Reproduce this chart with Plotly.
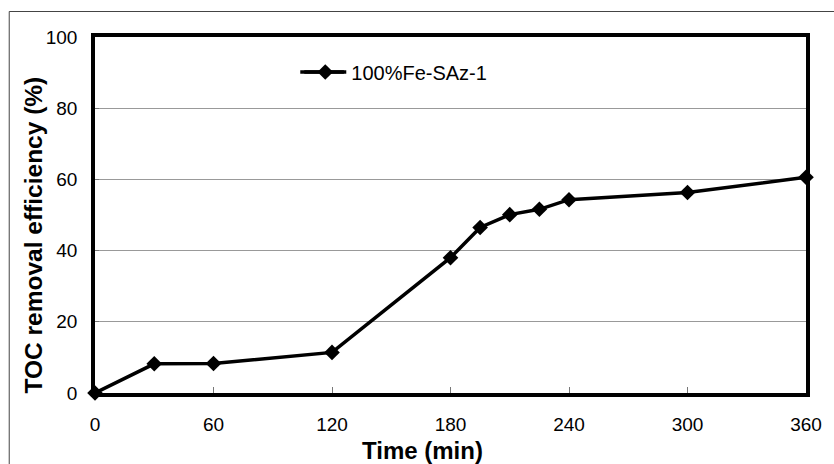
import plotly.graph_objects as go

time_min = [0, 30, 60, 120, 180, 195, 210, 225, 240, 300, 360]
toc_removal = [0, 8.2, 8.3, 11.4, 38.0, 46.5, 50.1, 51.6, 54.3, 56.3, 60.6]
series_name = "100%Fe-SAz-1"
x_ticks = [0, 60, 120, 180, 240, 300, 360]
y_ticks = [0, 20, 40, 60, 80, 100]
x_title = "Time (min)"
y_title = "TOC removal efficiency (%)"

FONT = "Liberation Sans, Arial, sans-serif"

fig = go.Figure()
fig.add_trace(go.Scatter(
    x=time_min, y=toc_removal, name=series_name, mode="lines+markers",
    line=dict(color="black", width=3.5),
    marker=dict(symbol="diamond", size=12, color="black"),
    cliponaxis=False,
))

L, R, T, B = 95, 22, 37, 71
W, H = 834, 464
pw, ph = W - L - R, H - T - B

def px2paper_x(px):
    return (px - L) / pw

def px2paper_y(py):
    return (H - B - py) / ph

# outer frame
fig.add_shape(type="rect", xref="paper", yref="paper",
              x0=px2paper_x(8.5), x1=px2paper_x(845), y0=px2paper_y(480), y1=px2paper_y(11.5),
              line=dict(color="#444444", width=1), layer="below")
# longer legend line sample
fig.add_shape(type="line", xref="paper", yref="paper",
              x0=px2paper_x(302), x1=px2paper_x(346), y0=px2paper_y(72), y1=px2paper_y(72),
              line=dict(color="black", width=3.5))

fig.add_annotation(text="<b>" + x_title + "</b>", xref="paper", yref="paper",
                   x=px2paper_x(425), y=px2paper_y(450), xanchor="center", yanchor="middle",
                   showarrow=False, font=dict(size=24, family=FONT, color="black"))
fig.add_annotation(text="<b>" + y_title + "</b>", xref="paper", yref="paper", textangle=-90,
                   x=px2paper_x(32), y=px2paper_y(235), xanchor="center", yanchor="middle",
                   showarrow=False, font=dict(size=24.5, family=FONT, color="black"))

fig.update_layout(
    width=W, height=H,
    margin=dict(l=L, r=R, t=T, b=B),
    paper_bgcolor="white", plot_bgcolor="white",
    font=dict(family=FONT, size=19, color="black"),
    showlegend=True,
    legend=dict(x=px2paper_x(301), y=px2paper_y(72), xanchor="left", yanchor="middle",
                bgcolor="rgba(0,0,0,0)", font=dict(size=20, family=FONT),
                itemwidth=42),
    xaxis=dict(range=[0, 360], tickvals=x_ticks, ticks="inside", ticklen=6, tickwidth=1,
               tickcolor="#777777", showgrid=False, zeroline=False,
               showline=True, linecolor="black", linewidth=3.5, mirror=True,
               tickfont=dict(size=19, family=FONT), ticklabelstandoff=11),
    yaxis=dict(range=[0, 100], tickvals=y_ticks, ticks="inside", ticklen=4, tickwidth=1,
               tickcolor="#777777", showgrid=True, gridcolor="#999999", gridwidth=1,
               zeroline=False, showline=True, linecolor="black", linewidth=3.5, mirror=True,
               tickfont=dict(size=19, family=FONT), ticklabelstandoff=10),
)

fig.write_html("out.html")
